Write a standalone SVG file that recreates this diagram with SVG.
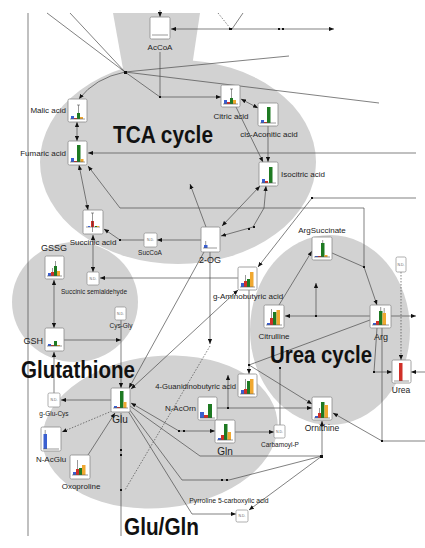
<svg xmlns="http://www.w3.org/2000/svg" width="425" height="548" viewBox="0 0 425 548">
<style>
.bg{fill:#d2d2d2}
.bx{fill:#fff;stroke:#8c8c8c;stroke-width:0.8}
.nd{fill:#fff;stroke:#8c8c8c;stroke-width:0.7}
.B{fill:#3a5fd0}.R{fill:#d03028}.G{fill:#1e7a22}.O{fill:#f0a830}
.base{stroke:#555;stroke-width:0.6}
.err{stroke:#333;stroke-width:0.5}
.l{fill:none;stroke:#4a4a4a;stroke-width:0.7}
.a{marker-end:url(#ar)}
.s{marker-start:url(#as)}
.d{stroke-dasharray:1.5,1.5}
.t{font-family:"Liberation Sans",Arial,sans-serif;fill:#222}
.big{font-family:"Liberation Sans",Arial,sans-serif;font-weight:bold;fill:#111}
.ndt{font-family:"Liberation Sans",Arial,sans-serif;font-size:3.5px;fill:#666;text-anchor:middle}
.dot{fill:#111}
</style>
<defs>
<marker id="ar" viewBox="0 0 6 6" refX="6" refY="3" markerWidth="5" markerHeight="5" orient="auto" markerUnits="userSpaceOnUse"><path d="M0,0.5 L6,3 L0,5.5 z" fill="#111"/></marker>
<marker id="as" viewBox="0 0 6 6" refX="0" refY="3" markerWidth="5" markerHeight="5" orient="auto" markerUnits="userSpaceOnUse"><path d="M6,0.5 L0,3 L6,5.5 z" fill="#111"/></marker>
</defs>
<rect width="425" height="548" fill="#fff"/>

<g id="regions">
<polygon class="bg" points="113,13 200,13 190,80 125,80"/>
<ellipse class="bg" cx="178" cy="162" rx="138" ry="102"/>
<ellipse class="bg" cx="75" cy="302" rx="63" ry="60"/>
<ellipse class="bg" cx="160" cy="432" rx="118" ry="76" transform="rotate(-6 160 432)"/>
<ellipse class="bg" cx="330" cy="330" rx="80" ry="95"/>
</g>

<g id="connectors">
<path class="l" d="M28,13 V536"/>
<path class="l" d="M47,13 L125,72 M70,13 L125,72"/>
<path class="l" d="M125,72 L289,56"/>
<path class="l" d="M125,72 L379,103"/>
<path class="l" d="M125,72 L160,97"/>
<path class="l a" d="M160,52 V97 H221"/>
<path class="l a" d="M125,72 Q95,78 79,99"/>
<path class="l a" d="M160,10 V17"/>
<path class="l a s" d="M171,29 H334"/>
<path class="l" d="M232,29 L243,13"/>
<path class="l d" d="M218,13 L230,28"/>
<path class="l a s" d="M241,99 L258,108"/>
<path class="l a" d="M236,107 L263,162"/>
<path class="l a" d="M268,126 V162"/>
<path class="l a s" d="M260,186 L222,226"/>
<path class="l a s" d="M266,186 L264,208 L253,227 L221,236"/>
<path class="l a" d="M206,227 L190,184"/>
<path class="l a" d="M201,240 H157"/>
<path class="l a" d="M144,240 H120 L104,229"/>
<path class="l a s" d="M88,210 L79,165"/>
<path class="l a s" d="M77,122 V141"/>
<path class="l a" d="M416,153 H88"/>
<path class="l a" d="M364,267 V208 H120 L88,166"/>
<path class="l a" d="M332,253 L364,267 L377,305"/>
<path class="l a" d="M416,198 H312 L258,267"/>
<path class="l a" d="M238,278 H100"/>
<path class="l a s" d="M93,235 V272"/>
<path class="l a" d="M204,252 L129,388"/>
<path class="l a s" d="M131,389 L238,290"/>
<path class="l a" d="M210,252 V344"/>
<path class="l d" d="M210,346 L125,490"/>
<path class="l a" d="M121,320 V388"/>
<path class="l a" d="M64,340 H121"/>
<path class="l a s" d="M54,280 V328"/>
<path class="l a" d="M54,393 V352"/>
<path class="l a" d="M111,400 H61"/>
<path class="l d a" d="M112,411 L62,432"/>
<path class="l a" d="M88,455 L115,413"/>
<path class="l" d="M121,413 V536"/>
<path class="l a s" d="M131,403 L179,431 H215"/>
<path class="l" d="M130,406 L200,456 H322"/>
<path class="l" d="M129,409 L182,480 H229 L322,456"/>
<path class="l a" d="M128,411 L192,514 H236"/>
<path class="l a" d="M322,456 L249,510"/>
<path class="l a" d="M322,456 V421"/>
<path class="l a" d="M235,432 H274"/>
<path class="l" d="M280,425 V368"/>
<path class="l a" d="M217,408 H312"/>
<path class="l a" d="M228,408 V375"/>
<path class="l a" d="M249,290 V374"/>
<path class="l a" d="M249,365 L312,404"/>
<path class="l" d="M249,365 L370,320"/>
<path class="l a" d="M370,316 H285"/>
<path class="l a" d="M316,316 V283"/>
<path class="l a" d="M391,316 H416"/>
<path class="l a" d="M279,305 L312,251"/>
<path class="l a" d="M377,328 L374,372 H392"/>
<path class="l" d="M382,328 V441 H425"/>
<path class="l a" d="M382,441 L333,413"/>
<path class="l a" d="M425,372 H411"/>
<path class="l d a" d="M401,272 V360"/>
<g class="dot">
<rect x="124" y="71" width="3" height="3"/>
<rect x="159" y="96" width="2" height="2"/>
<rect x="229" y="28" width="3" height="2"/>
<rect x="278" y="28" width="2" height="2"/><rect x="282" y="28" width="2" height="2"/>
<rect x="248" y="228" width="2" height="2"/><rect x="253" y="226" width="2" height="2"/>
<rect x="119" y="239" width="2" height="2"/>
<rect x="363" y="266" width="2" height="2"/>
<rect x="311" y="197" width="2" height="2"/>
<rect x="178" y="430" width="2" height="2"/><rect x="183" y="430" width="2" height="2"/>
<rect x="221" y="479" width="2" height="2"/><rect x="226" y="479" width="2" height="2"/>
<rect x="320" y="455" width="3" height="3"/>
<rect x="120" y="449" width="2" height="2"/><rect x="120" y="454" width="2" height="2"/><rect x="120" y="489" width="2" height="2"/>
<rect x="248" y="364" width="2" height="2"/>
<rect x="279" y="367" width="2" height="2"/>
<rect x="315" y="315" width="2" height="2"/>
<rect x="227" y="407" width="2" height="2"/>
<rect x="373" y="371" width="2" height="2"/>
<rect x="381" y="440" width="2" height="2"/>
</g>
</g>

<g id="AcCoA"><rect class="bx" x="150" y="17" width="20" height="22" rx="1.5"/><line class="base" x1="152" y1="35" x2="168" y2="35"/><text class="t" x="160" y="50" font-size="8" text-anchor="middle">AcCoA</text></g>

<g id="Malic"><rect class="bx" x="68" y="99" width="19" height="23" rx="1.5"/><rect class="B" x="71" y="116" width="3" height="3"/><rect class="R" x="74" y="118" width="3" height="1"/><rect class="G" x="77" y="113" width="3" height="6"/><rect class="O" x="80" y="117" width="3" height="2"/><line class="err" x1="78.5" y1="113" x2="78.5" y2="105"/><line class="err" x1="77" y1="105" x2="80" y2="105"/><line class="base" x1="70" y1="119" x2="85" y2="119"/><text class="t" x="66" y="113" font-size="8" text-anchor="end">Malic acid</text></g>

<g id="Citric"><rect class="bx" x="221" y="85" width="19" height="22" rx="1.5"/><rect class="B" x="224" y="100" width="3" height="4"/><rect class="R" x="227" y="102" width="3" height="2"/><rect class="G" x="230" y="98" width="3" height="6"/><rect class="O" x="233" y="100" width="3" height="4"/><line class="err" x1="231.5" y1="98" x2="231.5" y2="89"/><line class="err" x1="230" y1="89" x2="233" y2="89"/><line class="base" x1="223" y1="104" x2="238" y2="104"/><text class="t" x="231" y="119" font-size="8" text-anchor="middle">Citric acid</text></g>

<g id="cisAconitic"><rect class="bx" x="258" y="103" width="20" height="23" rx="1.5"/><rect class="B" x="261" y="120" width="3" height="3"/><rect class="R" x="264" y="122" width="3" height="1"/><rect class="G" x="267" y="107" width="3.5" height="16"/><line class="base" x1="260" y1="123" x2="276" y2="123"/><text class="t" x="269" y="137" font-size="8" text-anchor="middle">cis-Aconitic acid</text></g>

<g id="Fumaric"><rect class="bx" x="68" y="141" width="19" height="24" rx="1.5"/><rect class="B" x="71" y="158" width="3" height="4"/><rect class="R" x="74" y="161" width="3" height="1"/><rect class="G" x="77" y="145" width="3.5" height="17"/><rect class="O" x="80.5" y="159" width="3" height="3"/><line class="base" x1="70" y1="162" x2="85" y2="162"/><text class="t" x="66" y="156" font-size="8" text-anchor="end">Fumaric acid</text></g>

<g id="Isocitric"><rect class="bx" x="259" y="162" width="19" height="24" rx="1.5"/><rect class="B" x="262" y="179" width="3" height="4"/><rect class="R" x="265" y="181" width="3" height="2"/><rect class="G" x="269" y="167" width="3.5" height="16"/><line class="base" x1="261" y1="183" x2="276" y2="183"/><text class="t" x="281" y="177" font-size="8">Isocitric acid</text></g>

<g id="Succinic"><rect class="bx" x="83" y="210" width="20" height="24" rx="1.5"/><line class="base" x1="86" y1="227" x2="100" y2="227"/><rect class="R" x="91" y="221" width="3" height="6"/><line class="err" x1="92.5" y1="213" x2="92.5" y2="232"/><line class="err" x1="91" y1="213" x2="94" y2="213"/><rect class="B" x="88" y="226" width="2" height="1"/><rect class="G" x="95" y="226" width="2" height="1"/><rect class="O" x="97" y="226" width="2" height="1"/><text class="t" x="93" y="245" font-size="8" text-anchor="middle">Succinic acid</text></g>

<g id="SucCoA"><rect class="nd" x="144" y="233" width="13" height="14" rx="1.5"/><text class="ndt" x="150.5" y="241">N.D.</text><text class="t" x="150" y="255" font-size="6.5" text-anchor="middle">SucCoA</text></g>

<g id="OG2"><rect class="bx" x="201" y="227" width="19" height="25" rx="1.5"/><rect class="B" x="204" y="245" width="3.5" height="3"/><line class="err" x1="205.7" y1="245" x2="205.7" y2="241"/><line class="base" x1="203" y1="248" x2="217" y2="248"/><text class="t" x="210" y="263" font-size="9" text-anchor="middle">2-OG</text></g>

<g id="GSSG"><rect class="bx" x="45" y="256" width="19" height="23" rx="1.5"/><rect class="B" x="48" y="273" width="3" height="3"/><rect class="R" x="51" y="272" width="3" height="4"/><rect class="G" x="54" y="266" width="3" height="10"/><rect class="O" x="57" y="271" width="3" height="5"/><line class="err" x1="52.5" y1="272" x2="52.5" y2="268"/><line class="err" x1="55.5" y1="266" x2="55.5" y2="261"/><line class="base" x1="47" y1="276" x2="62" y2="276"/><text class="t" x="54" y="251" font-size="9" text-anchor="middle">GSSG</text></g>

<g id="SSA"><rect class="nd" x="87" y="272" width="12" height="13" rx="1.5"/><text class="ndt" x="93" y="280">N.D.</text><text class="t" x="94" y="294" font-size="6.5" text-anchor="middle">Succinic semialdehyde</text></g>

<g id="CysGly"><rect class="nd" x="115" y="307" width="11" height="13" rx="1.5"/><text class="ndt" x="120.5" y="315">N.D.</text><text class="t" x="121" y="328" font-size="6.5" text-anchor="middle">Cys-Gly</text></g>

<g id="GSH"><rect class="bx" x="45" y="328" width="19" height="23" rx="1.5"/><rect class="B" x="48" y="344" width="3" height="2"/><rect class="R" x="51" y="345" width="3" height="1"/><rect class="G" x="54" y="341" width="3" height="5"/><rect class="O" x="57" y="345" width="3" height="1"/><line class="base" x1="47" y1="346" x2="62" y2="346"/><text class="t" x="43" y="344" font-size="9" text-anchor="end">GSH</text></g>

<g id="gGluCys"><rect class="nd" x="48" y="393" width="12" height="14" rx="1.5"/><text class="ndt" x="54" y="401">N.D.</text><text class="t" x="54" y="416" font-size="6.5" text-anchor="middle">g-Glu-Cys</text></g>

<g id="Glu"><rect class="bx" x="111" y="388" width="19" height="24" rx="1.5"/><rect class="B" x="114" y="406" width="3" height="2"/><rect class="R" x="117" y="407" width="3" height="1"/><rect class="G" x="120" y="391" width="3.5" height="17"/><rect class="O" x="123.5" y="402" width="3" height="6"/><line class="base" x1="113" y1="408" x2="128" y2="408"/><text class="t" x="120" y="423" font-size="10" text-anchor="middle">Glu</text></g>

<g id="NAcGlu"><rect class="bx" x="41" y="427" width="20" height="24" rx="1.5"/><rect class="B" x="43.5" y="434" width="3.5" height="15"/><line class="err" x1="45.2" y1="434" x2="45.2" y2="430"/><line class="base" x1="43" y1="449" x2="59" y2="449"/><text class="t" x="51" y="462" font-size="8" text-anchor="middle">N-AcGlu</text></g>

<g id="Oxoproline"><rect class="bx" x="70" y="455" width="20" height="24" rx="1.5"/><rect class="B" x="73" y="472" width="3" height="3"/><rect class="R" x="76" y="469" width="3" height="6"/><rect class="G" x="79" y="468" width="3" height="7"/><rect class="O" x="82" y="465" width="3.5" height="10"/><line class="err" x1="77.5" y1="469" x2="77.5" y2="460"/><line class="base" x1="72" y1="475" x2="88" y2="475"/><text class="t" x="81" y="489" font-size="8" text-anchor="middle">Oxoproline</text></g>

<g id="Guan"><rect class="bx" x="238" y="374" width="19" height="23" rx="1.5"/><rect class="B" x="241" y="390" width="3" height="4"/><rect class="R" x="244" y="389" width="3" height="5"/><rect class="G" x="247" y="381" width="3" height="13"/><rect class="O" x="250" y="379" width="3.5" height="15"/><line class="err" x1="245.5" y1="389" x2="245.5" y2="379"/><line class="base" x1="240" y1="394" x2="255" y2="394"/><text class="t" x="236" y="389" font-size="7.7" text-anchor="end">4-Guanidinobutyric acid</text></g>

<g id="NAcOrn"><rect class="bx" x="198" y="397" width="19" height="23" rx="1.5"/><rect class="B" x="200" y="412" width="4" height="6"/><rect class="R" x="204" y="415" width="4" height="3"/><rect class="G" x="208" y="404" width="4" height="14"/><line class="base" x1="200" y1="418" x2="215" y2="418"/><text class="t" x="196" y="411" font-size="8" text-anchor="end">N-AcOrn</text></g>

<g id="Gln"><rect class="bx" x="215" y="420" width="20" height="23" rx="1.5"/><rect class="B" x="218" y="438" width="3" height="2"/><rect class="R" x="221" y="435" width="3" height="5"/><rect class="G" x="224" y="424" width="3.5" height="16"/><rect class="O" x="227.5" y="432" width="3.5" height="8"/><line class="base" x1="217" y1="440" x2="233" y2="440"/><text class="t" x="225" y="455" font-size="10" text-anchor="middle">Gln</text></g>

<g id="CarbP"><rect class="nd" x="274" y="425" width="11" height="13" rx="1.5"/><text class="ndt" x="279.5" y="433">N.D.</text><text class="t" x="280" y="447" font-size="6.5" text-anchor="middle">Carbamoyl-P</text></g>

<g id="Ornithine"><rect class="bx" x="312" y="397" width="20" height="23" rx="1.5"/><rect class="B" x="315" y="416" width="3" height="2"/><rect class="R" x="318" y="413" width="3" height="5"/><rect class="G" x="321" y="402" width="3.5" height="16"/><rect class="O" x="324.5" y="405" width="3.5" height="13"/><line class="err" x1="319.5" y1="413" x2="319.5" y2="408"/><line class="base" x1="314" y1="418" x2="330" y2="418"/><text class="t" x="322" y="431" font-size="8.5" text-anchor="middle">Ornithine</text></g>

<g id="P5C"><rect class="nd" x="236" y="510" width="12" height="12" rx="1.5"/><text class="ndt" x="242" y="517">N.D.</text><text class="t" x="229" y="503" font-size="6.8" text-anchor="middle">Pyrroline 5-carboxylic acid</text></g>

<g id="GABA"><rect class="bx" x="238" y="267" width="19" height="23" rx="1.5"/><rect class="B" x="241" y="283" width="3" height="4"/><rect class="R" x="244" y="281" width="3" height="6"/><rect class="G" x="247" y="279" width="3" height="8"/><rect class="O" x="250" y="272" width="3.5" height="15"/><line class="err" x1="245.5" y1="281" x2="245.5" y2="275"/><line class="base" x1="240" y1="287" x2="255" y2="287"/><text class="t" x="248" y="299" font-size="8" text-anchor="middle">g-Aminobutyric acid</text></g>

<g id="ArgSucc"><rect class="bx" x="312" y="237" width="20" height="23" rx="1.5"/><rect class="B" x="315" y="256" width="3" height="1"/><rect class="R" x="318" y="256" width="3" height="1"/><rect class="G" x="321" y="243" width="3.5" height="14"/><rect class="O" x="324.5" y="255" width="3" height="2"/><line class="err" x1="322.7" y1="243" x2="322.7" y2="240"/><line class="base" x1="314" y1="257" x2="330" y2="257"/><text class="t" x="322" y="233" font-size="8" text-anchor="middle">ArgSuccinate</text></g>

<g id="Citrulline"><rect class="bx" x="264" y="305" width="20" height="23" rx="1.5"/><rect class="B" x="267" y="323" width="3" height="2"/><rect class="R" x="270" y="318" width="3" height="7"/><rect class="G" x="273" y="312" width="3.5" height="13"/><rect class="O" x="276.5" y="310" width="3.5" height="15"/><line class="err" x1="271.5" y1="318" x2="271.5" y2="309"/><line class="base" x1="266" y1="325" x2="282" y2="325"/><text class="t" x="274" y="339" font-size="8" text-anchor="middle">Citrulline</text></g>

<g id="Arg"><rect class="bx" x="370" y="305" width="21" height="23" rx="1.5"/><rect class="B" x="373" y="323" width="3" height="2"/><rect class="R" x="376" y="321" width="3" height="4"/><rect class="G" x="379" y="311" width="3.5" height="14"/><rect class="O" x="382.5" y="313" width="3.5" height="12"/><line class="err" x1="380.7" y1="311" x2="380.7" y2="307"/><line class="err" x1="384.2" y1="313" x2="384.2" y2="308"/><line class="base" x1="372" y1="325" x2="389" y2="325"/><text class="t" x="381" y="340" font-size="9" text-anchor="middle">Arg</text></g>

<g id="Urea"><rect class="bx" x="392" y="360" width="19" height="23" rx="1.5"/><rect class="R" x="399" y="363" width="3.5" height="18"/><line class="base" x1="394" y1="381" x2="409" y2="381"/><text class="t" x="401" y="393" font-size="8.5" text-anchor="middle">Urea</text></g>

<g id="NDtop"><rect class="nd" x="396" y="257" width="10" height="15" rx="1.5"/><text class="ndt" x="401" y="266">N.D.</text></g>

<g id="titles">
<text class="big" x="113" y="143" font-size="23" textLength="100" lengthAdjust="spacingAndGlyphs">TCA cycle</text>
<text class="big" x="21" y="378" font-size="24" textLength="114" lengthAdjust="spacingAndGlyphs">Glutathione</text>
<text class="big" x="270" y="363" font-size="23" textLength="102" lengthAdjust="spacingAndGlyphs">Urea cycle</text>
<text class="big" x="124" y="535" font-size="23" textLength="75" lengthAdjust="spacingAndGlyphs">Glu/Gln</text>
</g>
</svg>
